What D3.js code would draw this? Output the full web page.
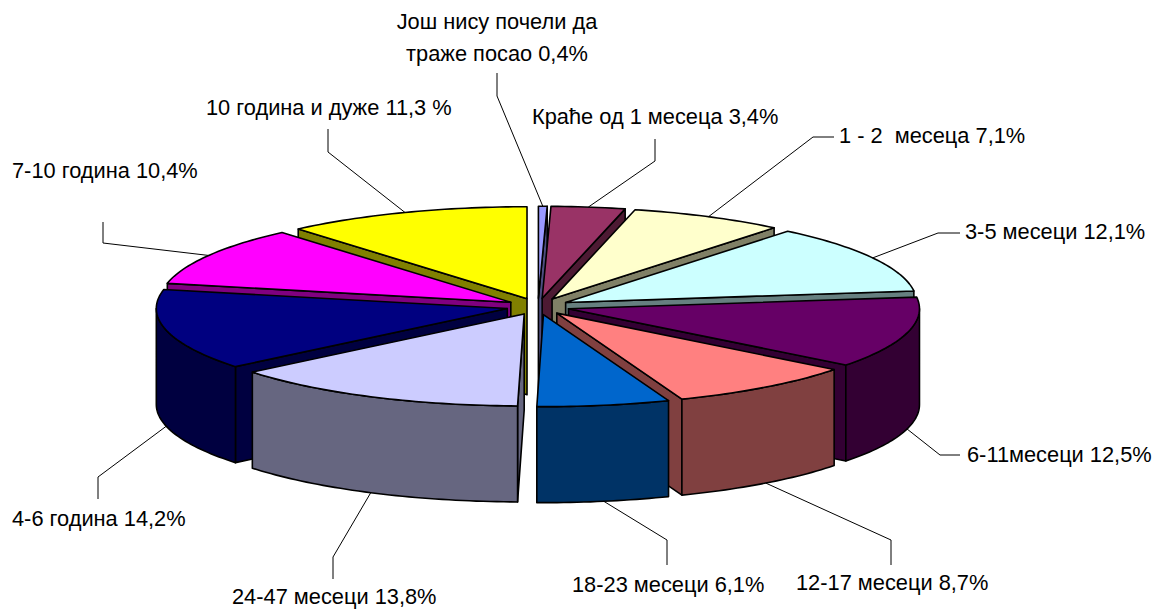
<!DOCTYPE html>
<html><head><meta charset="utf-8">
<script src="https://cdn.jsdelivr.net/npm/d3@7"></script>
<style>html,body{margin:0;background:#fff}svg{display:block}text{font-family:"Liberation Sans",Arial,sans-serif;font-size:21.8px;fill:#000}</style>
</head><body><svg id="c" width="1157" height="609"></svg>
<script>
const categories = ["Још нису почели да траже посао","Краће од 1 месеца","1 - 2 месеца","3-5 месеци","6-11месеци","12-17 месеци","18-23 месеци","24-47 месеци","4-6 година","7-10 година","10 година и дуже"];
const values = [0.4,3.4,7.1,12.1,12.5,8.7,6.1,13.8,14.2,10.4,11.3];
const colors = ["#9999FF","#993366","#FFFFCC","#CCFFFF","#660066","#FF8080","#0066CC","#CCCCFF","#000080","#FF00FF","#FFFF00"];
const labelLines = [["Још нису почели да","траже посао 0,4%"],["Краће од 1 месеца 3,4%"],["1 - 2  месеца 7,1%"],["3-5 месеци 12,1%"],["6-11месеци 12,5%"],["12-17 месеци 8,7%"],["18-23 месеци 6,1%"],["24-47 месеци 13,8%"],["4-6 година 14,2%"],["7-10 година 10,4%"],["10 година и дуже 11,3 %"]];
// label layout: [x, baseline y, anchor], leader elbows
const labelPos = [[497,29,"middle"],[532,124,"start"],[839,143,"start"],[965,239,"start"],[967,462,"start"],[796,590,"start"],[572,592,"start"],[232,604,"start"],[12,526,"start"],[12,178,"start"],[206,115,"start"]];
const leaderPts = [[[497,96],[497,73]],[[655,161],[655,139]],[[813,137],[834,137]],[[938,233],[960,233]],[[940,455],[960,455]],[[891,540],[891,565]],[[667,540],[667,565]],[[333,557],[333,579]],[[98,477],[98,499]],[[103,243],[103,222]],[[328,152],[328,129]]];

const cx=538, cy=306.5, rx=351, ry=92, depth=96, explode=0.09;
const x=d3.scaleLinear().domain([-1,1]).range([cx-rx,cx+rx]);
const y=d3.scaleLinear().domain([-1,1]).range([cy-ry,cy+ry]);
const svg=d3.select("#c");
const pie=d3.pie().sort(null).startAngle(0).endAngle(2*Math.PI).value(d=>d);
const arcs=pie(values).map((a,i)=>{
  const mid=(a.startAngle+a.endAngle)/2;
  return {...a,i,mid,ox:explode*Math.sin(mid),oy:-explode*Math.cos(mid)};
});
const rim=(a,t)=>[x(a.ox+Math.sin(t)),y(a.oy-Math.cos(t))];
const apex=a=>[x(a.ox),y(a.oy)];
const down=p=>[p[0],p[1]+depth];
const arcPts=(a,s,e)=>{const n=Math.max(2,Math.ceil((e-s)/0.02));return d3.range(n+1).map(k=>rim(a,s+(e-s)*k/n));};
const line=d3.line().curve(d3.curveLinearClosed);
const order=arcs.slice().sort((p,q)=>-Math.cos(p.mid)-(-Math.cos(q.mid)));
const g=svg.append("g").attr("stroke","#000").attr("stroke-width",1.6).attr("stroke-linejoin","round");
order.forEach(a=>{
  const col=d3.color(colors[a.i]);
  const dark=d3.rgb(col.r*.5,col.g*.5,col.b*.5).formatHex();
  const A=apex(a),S=rim(a,a.startAngle),E=rim(a,a.endAngle);
  // only the radial walls that face the viewer
  if(Math.sin(a.startAngle)<0) g.append("path").attr("fill",dark).attr("d",line([A,S,down(S),down(A)]));
  if(Math.sin(a.endAngle)>0) g.append("path").attr("fill",dark).attr("d",line([A,E,down(E),down(A)]));
  const s=Math.max(a.startAngle,Math.PI/2),e=Math.min(a.endAngle,Math.PI*1.5);
  if(e>s){const pts=arcPts(a,s,e);g.append("path").attr("fill",dark).attr("d",line(pts.concat(pts.slice().reverse().map(down))));}
  g.append("path").attr("fill",colors[a.i]).attr("d",line([A,...arcPts(a,a.startAngle,a.endAngle)]));
});
const leaders=svg.append("g").attr("fill","none").attr("stroke","#000").attr("stroke-width",1);
arcs.forEach(a=>{
  let p=rim(a,a.mid); if(Math.cos(a.mid)<0) p=down(p);
  leaders.append("path").attr("d",d3.line()([p,...leaderPts[a.i]]));
  const lp=labelPos[a.i];
  labelLines[a.i].forEach((t,k)=>svg.append("text").attr("x",lp[0]).attr("y",lp[1]+k*32).attr("text-anchor",lp[2]).attr("xml:space","preserve").style("white-space","pre").text(t));
});
</script></body></html>
